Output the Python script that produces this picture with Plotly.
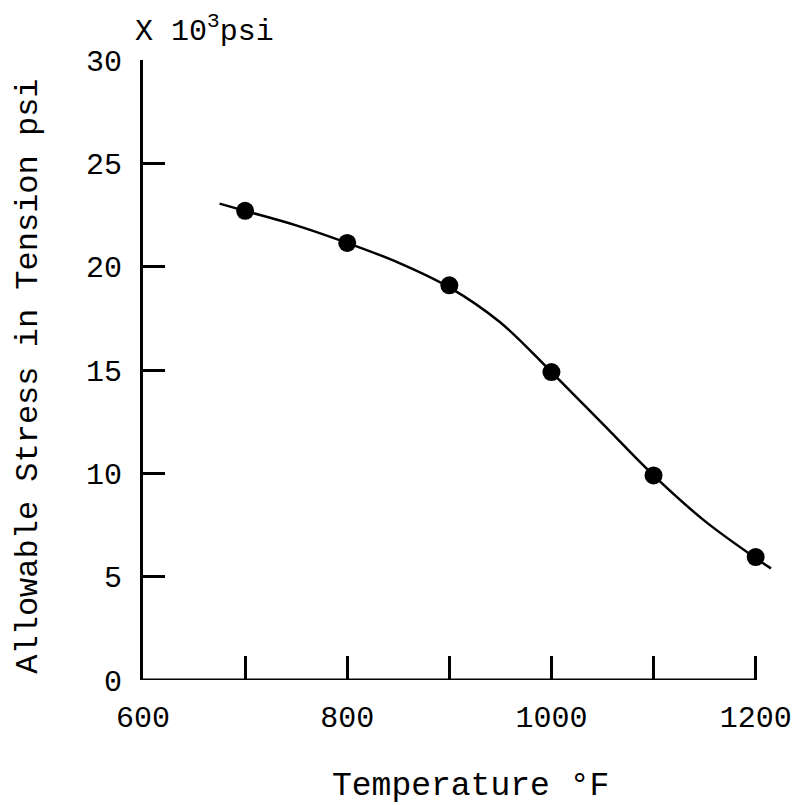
import plotly.graph_objects as go

# Measured data points
temp_points = [700, 800, 900, 1000, 1100, 1200]
stress_points = [22.7, 21.15, 19.1, 14.9, 9.9, 5.95]

# Smooth fitted curve
temp_curve = [675, 700, 750, 800, 850, 900, 950, 1000, 1050, 1100, 1150, 1200, 1215]
stress_curve = [23.05, 22.7, 22.0, 21.15, 20.2, 19.0, 17.3, 14.9, 12.4, 9.9, 7.7, 5.9, 5.4]

x_tickvals = [600, 700, 800, 900, 1000, 1100, 1200]
x_ticktext = ["600", "", "800", "", "1000", "", "1200"]
y_tickvals = [0, 5, 10, 15, 20, 25, 30]
y_ticktext = ["0", "5", "10", "15", "20", "25", "30"]

FONT = "Courier New, Liberation Mono, monospace"

fig = go.Figure()
fig.add_trace(go.Scatter(x=temp_curve, y=stress_curve, mode="lines",
                         line=dict(color="black", width=2.5, shape="spline", smoothing=1.0),
                         hoverinfo="skip", showlegend=False))
fig.add_trace(go.Scatter(x=temp_points, y=stress_points, mode="markers",
                         marker=dict(color="black", size=18),
                         showlegend=False, cliponaxis=False))

# x axis line only spans the labelled range (600-1200)
fig.add_shape(type="line", xref="x", yref="y",
              x0=x_tickvals[0], x1=x_tickvals[-1], y0=y_tickvals[0], y1=y_tickvals[0],
              line=dict(color="black", width=3), layer="above")

fig.update_layout(
    width=804, height=805,
    margin=dict(l=143, r=30, t=60, b=125),
    paper_bgcolor="white", plot_bgcolor="white",
    font=dict(family=FONT, color="black", size=30),
    showlegend=False,
    xaxis=dict(range=[600, 1216], tickvals=x_tickvals, ticktext=x_ticktext,
               showline=False,
               ticks="inside", ticklen=24, tickwidth=2.5, tickcolor="black",
               showgrid=False, zeroline=False, ticklabelstandoff=16,
               tickfont=dict(size=30, family=FONT)),
    yaxis=dict(range=[0, 30], tickvals=y_tickvals, ticktext=y_ticktext,
               showline=True, linecolor="black", linewidth=3,
               ticks="inside", ticklen=22, tickwidth=2.5, tickcolor="black",
               showgrid=False, zeroline=False, ticklabelstandoff=12,
               tickfont=dict(size=30, family=FONT)),
    annotations=[
        dict(text="X 10<sup>3</sup>psi", xref="paper", yref="paper",
             x=-0.016, y=1.0, xanchor="left", yanchor="middle", yshift=31,
             showarrow=False, font=dict(size=30, family=FONT)),
        dict(text="Temperature °F", xref="paper", yref="paper",
             x=0.52, y=0.0, xanchor="center", yanchor="middle", yshift=-106,
             showarrow=False, font=dict(size=33, family=FONT)),
        dict(text="Allowable Stress in Tension psi", xref="paper", yref="paper",
             x=-0.182, y=0.49, xanchor="center", yanchor="middle", textangle=-90,
             showarrow=False, font=dict(size=32, family=FONT)),
    ],
)

fig.write_html("out.html")
